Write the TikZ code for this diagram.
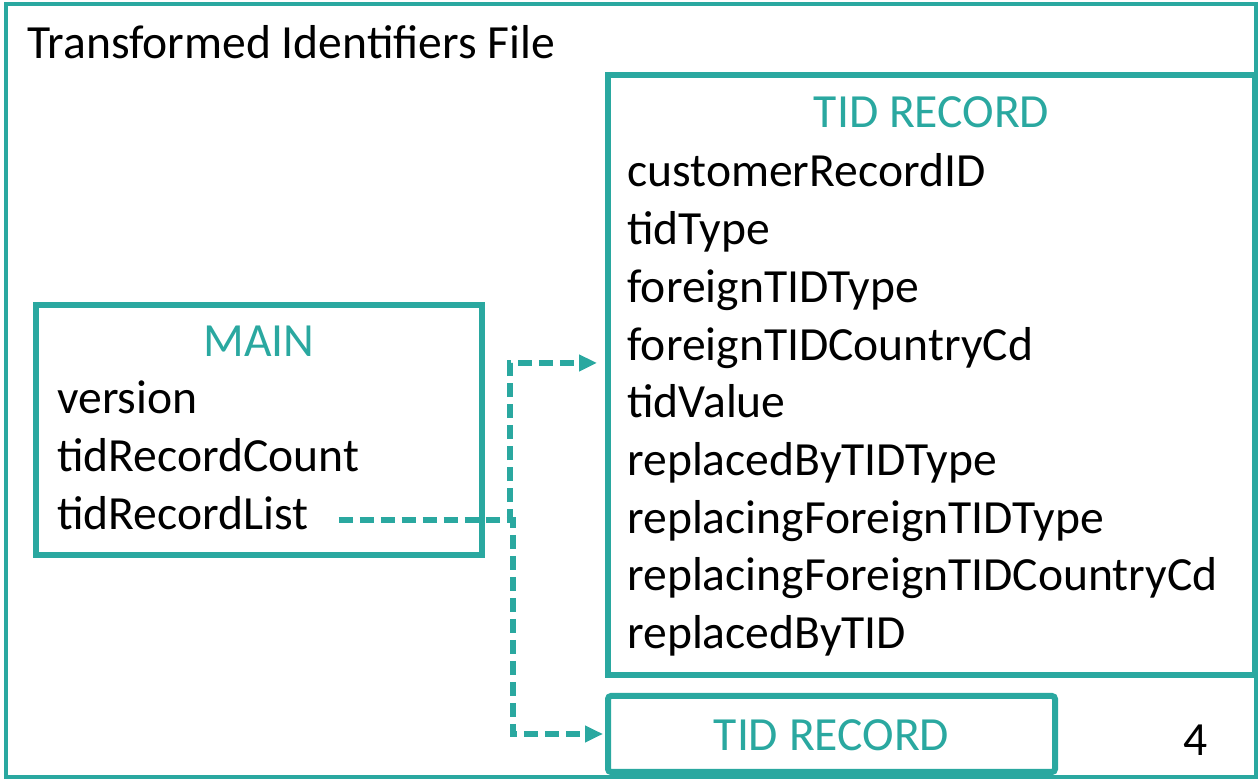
\documentclass[tikz,border=0pt]{standalone}
\usepackage{fontspec}
\setmainfont{Carlito}
\usetikzlibrary{fit,arrows.meta}

\definecolor{tidteal}{RGB}{42,168,160}

\tikzset{
    frame/.style={draw=tidteal, line width=2pt, inner sep=0pt},
    box/.style={draw=tidteal, line width=3pt, inner sep=0pt},
    boxtitle/.style={text=tidteal, inner sep=0pt, anchor=base, font=\fontsize{23.8}{28}\selectfont},
    field/.style={inner sep=0pt, anchor=base west, font=\fontsize{23.8}{28}\selectfont},
    link/.style={draw=tidteal, line width=2.7pt, dash pattern=on 7pt off 3.5pt,
        -{Triangle[length=9pt,width=8pt]}}
}

\begin{document}
\begin{tikzpicture}[x=0.5pt, y=-0.5pt]

        \useasboundingbox (0,0) rectangle (1258,779);

        % Defining the file frame
        \node[frame, fit={(6,4) (1256,777)}] (file) {};
        \node[field] (fileTitle) at (27,59) {Transformed Identifiers File};

        % Defining the MAIN record and its fields
        \node[box, fit={(36,305) (482,555)}] (mainBox) {};
        \node[boxtitle] (mainTitle) at (259,357) {MAIN};
        \node[field] (fieldVersion) at (57,414) {version};
        \node[field] (fieldCount) at (57,472) {tidRecordCount};
        \node[field] (fieldList) at (57,530) {tidRecordList};

        % Defining the TID records and their fields
        \node[box, fit={(608,75) (1255,675)}] (recBox) {};
        \node[boxtitle] (recTitle) at (931.5,128) {TID RECORD};
        \node[field] (recCustomer) at (627,187) {customerRecordID};
        \node[field] (recType) at (627,244.7) {tidType};
        \node[field] (recForeignType) at (627,302.4) {foreignTIDType};
        \node[field] (recForeignCountry) at (627,360.1) {foreignTIDCountryCd};
        \node[field] (recValue) at (627,417.8) {tidValue};
        \node[field] (recReplacedType) at (627,475.5) {replacedByTIDType};
        \node[field] (recReplacingType) at (627,533.2) {replacingForeignTIDType};
        \node[field] (recReplacingCountry) at (627,590.9) {replacingForeignTIDCountryCd};
        \node[field] (recReplaced) at (627,648.6) {replacedByTID};

        \node[box, rounded corners=1.5pt, fit={(608,696) (1055,772)}] (recSmall) {};
        \node[boxtitle] (recSmallTitle) at (831.5,750) {TID RECORD};
        \node[field, anchor=base] (recCount) at (1196,755) {4};

        % Defining the links between the records
        \coordinate (upTurn) at (510,520);
        \coordinate (downTurn) at (513,520);
        \draw[link, shorten >=4pt] ([shift={(15pt,5pt)}]fieldList.base east) -- (upTurn) |- ([yshift=6pt]recBox.west);
        \draw[link, shorten >=1pt] ([shift={(15pt,5pt)}]fieldList.base east) -- (downTurn) |- (recSmall.west);

    \end{tikzpicture}
\end{document}
